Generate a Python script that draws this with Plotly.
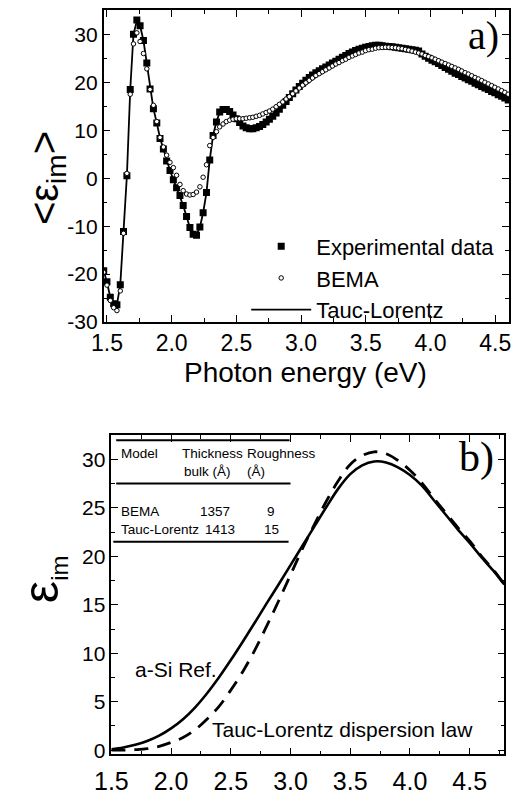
import plotly.graph_objects as go

# ---------------- data : panel a) ----------------
energy_a = [
    1.475, 1.500, 1.526, 1.552, 1.577, 1.603, 1.628, 1.654, 1.680, 1.705,
    1.731, 1.756, 1.782, 1.808, 1.833, 1.859, 1.885, 1.910, 1.936, 1.961,
    1.987, 2.013, 2.038, 2.064, 2.089, 2.115, 2.141, 2.166, 2.192, 2.218,
    2.243, 2.269, 2.294, 2.320, 2.346, 2.371, 2.397, 2.422, 2.448, 2.474,
    2.499, 2.525, 2.551, 2.576, 2.602, 2.627, 2.653, 2.679, 2.704, 2.730,
    2.755, 2.781, 2.807, 2.832, 2.858, 2.884, 2.909, 2.935, 2.960, 2.986,
    3.012, 3.037, 3.063, 3.088, 3.114, 3.140, 3.165, 3.191, 3.217, 3.242,
    3.268, 3.293, 3.319, 3.345, 3.370, 3.396, 3.421, 3.447, 3.473, 3.498,
    3.524, 3.550, 3.575, 3.601, 3.626, 3.652, 3.678, 3.703, 3.729, 3.754,
    3.780, 3.806, 3.831, 3.857, 3.883, 3.908, 3.934, 3.959, 3.985, 4.011,
    4.036, 4.062, 4.087, 4.113, 4.139, 4.164, 4.190, 4.216, 4.241, 4.267,
    4.292, 4.318, 4.344, 4.369, 4.395, 4.420, 4.446, 4.472, 4.497, 4.523,
    4.549, 4.574, 4.600,
]

exp_data = [
    -19.3, -21.6, -24.8, -26.2, -26.4, -22.2, -11.1, 0.5, 18.5, 30.0,
    33.0, 31.8, 28.7, 24.0, 18.6, 14.5, 11.5, 8.3, 6.1, 3.6,
    1.6, -0.3, -2.0, -3.6, -5.7, -8.0, -10.3, -11.7, -11.9, -10.2,
    -7.2, -3.0, 3.8, 8.9, 11.7, 13.8, 14.3, 14.3, 13.9, 13.2,
    12.4, 11.6, 10.9, 10.5, 10.3, 10.3, 10.5, 10.8, 11.2, 11.7,
    12.3, 12.9, 13.6, 14.4, 15.2, 16.0, 16.8, 17.6, 18.4, 19.1,
    19.8, 20.4, 21.0, 21.5, 22.0, 22.4, 22.8, 23.2, 23.6, 24.0,
    24.4, 24.8, 25.2, 25.6, 26.0, 26.3, 26.6, 26.9, 27.1, 27.3,
    27.45, 27.6, 27.7, 27.7, 27.6, 27.5, 27.45, 27.4, 27.3, 27.2,
    27.1, 27.0, 26.9, 26.8, 26.7, 26.5, 25.9, 25.4, 25.0, 24.6,
    24.3, 23.9, 23.5, 23.1, 22.7, 22.3, 21.9, 21.6, 21.2, 20.9,
    20.5, 20.2, 19.8, 19.5, 19.1, 18.8, 18.5, 18.1, 17.8, 17.4,
    17.1, 16.7, 16.3,
]

bema_data = [
    -19.6, -22.3, -25.5, -27.0, -27.6, -23.5, -11.5, 1.0, 17.5, 28.0,
    30.3, 28.5, 26.0, 22.8, 18.5, 15.2, 11.8, 8.5, 6.5, 4.8,
    3.3, 2.2, 0.6, -1.3, -2.6, -3.3, -3.5, -3.4, -2.9, -1.8,
    0.2, 2.8, 6.8, 8.5, 9.7, 10.7, 11.3, 11.8, 12.1, 12.3,
    12.4, 12.4, 12.4, 12.5, 12.6, 12.7, 12.9, 13.1, 13.4, 13.7,
    14.0, 14.4, 14.9, 15.4, 15.9, 16.5, 17.0, 17.6, 18.2, 18.8,
    19.4, 19.9, 20.4, 20.9, 21.4, 21.8, 22.2, 22.6, 23.0, 23.4,
    23.8, 24.1, 24.5, 24.8, 25.2, 25.5, 25.8, 26.1, 26.3, 26.6,
    26.8, 26.9, 27.1, 27.2, 27.25, 27.3, 27.3, 27.25, 27.2, 27.1,
    27.0, 26.85, 26.7, 26.5, 26.3, 26.1, 25.9, 25.6, 25.35, 25.1,
    24.8, 24.5, 24.2, 23.9, 23.6, 23.3, 23.0, 22.7, 22.35, 22.0,
    21.7, 21.35, 21.0, 20.7, 20.35, 20.0, 19.65, 19.3, 18.95, 18.6,
    18.25, 17.9, 17.5,
]

# the Tauc-Lorentz fit coincides with the measured points at this scale
tl_fit = [
    -19.3, -21.7, -24.8, -26.3, -26.4, -22.2, -11.1, 0.5, 18.5, 30.0,
    32.8, 31.8, 28.7, 24.0, 18.6, 14.5, 11.5, 8.4, 6.1, 3.7,
    1.6, -0.3, -2.0, -3.7, -5.7, -8.0, -10.3, -11.6, -11.8, -10.2,
    -7.2, -3.0, 3.8, 8.9, 11.8, 13.7, 14.3, 14.3, 13.9, 13.2,
    12.4, 11.6, 10.9, 10.5, 10.3, 10.3, 10.5, 10.8, 11.2, 11.7,
    12.3, 12.9, 13.6, 14.4, 15.2, 16.0, 16.8, 17.6, 18.4, 19.1,
    19.8, 20.4, 21.0, 21.5, 22.0, 22.4, 22.8, 23.2, 23.6, 24.0,
    24.4, 24.8, 25.2, 25.6, 26.0, 26.3, 26.6, 26.9, 27.1, 27.3,
    27.45, 27.6, 27.7, 27.7, 27.6, 27.5, 27.45, 27.4, 27.3, 27.2,
    27.1, 27.0, 26.9, 26.8, 26.6, 26.3, 25.9, 25.4, 25.0, 24.6,
    24.3, 23.9, 23.5, 23.1, 22.7, 22.3, 21.9, 21.6, 21.2, 20.9,
    20.5, 20.2, 19.8, 19.5, 19.1, 18.8, 18.5, 18.1, 17.8, 17.4,
    17.1, 16.7, 16.3,
]

xticks_a = [1.5, 2.0, 2.5, 3.0, 3.5, 4.0, 4.5]
xticklabels_a = ["1.5", "2.0", "2.5", "3.0", "3.5", "4.0", "4.5"]
yticks_a = [-30, -20, -10, 0, 10, 20, 30]
yticklabels_a = ["-30", "-20", "-10", "0", "10", "20", "30"]

# ---------------- data : panel b) ----------------
energy_b = [1.5, 1.6, 1.7, 1.8, 1.9, 2.0, 2.1, 2.2, 2.3, 2.4, 2.5, 2.6,
            2.7, 2.8, 2.9, 3.0, 3.1, 3.2, 3.3, 3.4, 3.5, 3.6, 3.7, 3.8,
            3.9, 4.0, 4.1, 4.2, 4.3, 4.4, 4.5, 4.6, 4.7, 4.79]
asi_ref = [0.10, 0.28, 0.55, 0.95, 1.50, 2.25, 3.20, 4.40, 5.85, 7.50,
           9.30, 11.2, 13.15, 15.15, 17.1, 19.1, 21.1, 23.1, 25.1, 27.0,
           28.5, 29.4, 29.8, 29.7, 29.2, 28.4, 27.3, 25.8, 24.3, 22.8,
           21.4, 19.9, 18.5, 17.1]
tl_law = [0.0, 0.0, 0.05, 0.15, 0.4, 0.8, 1.3, 2.1, 3.2, 4.5,
          6.2, 8.1, 10.3, 12.8, 15.4, 18.1, 20.8, 23.3, 25.7, 27.8,
          29.5, 30.4, 30.8, 30.6, 29.9, 28.9, 27.6, 26.0, 24.5, 23.0,
          21.6, 20.0, 18.6, 17.1]

xticks_b = [1.5, 2.0, 2.5, 3.0, 3.5, 4.0, 4.5]
xticklabels_b = ["1.5", "2.0", "2.5", "3.0", "3.5", "4.0", "4.5"]
yticks_b = [0, 5, 10, 15, 20, 25, 30]
yticklabels_b = ["0", "5", "10", "15", "20", "25", "30"]

table_header = ["Model", "Thickness", "Roughness"]
table_units = ["bulk (Å)", "(Å)"]
table_models = ["BEMA", "Tauc-Lorentz"]
table_thickness = ["1357", "1413"]
table_roughness = ["9", "15"]

# ---------------- figure ----------------
W, H = 514, 795
SANS = "Liberation Sans, Arial, sans-serif"
SERIF = "Liberation Serif, Times New Roman, serif"


def fx(px):
    return px / W


def fy(py):
    return 1 - py / H


fig = go.Figure()

fig.add_trace(go.Scatter(
    x=energy_a, y=tl_fit, mode="lines", name="Tauc-Lorentz", legendrank=3,
    line=dict(color="black", width=1.8), xaxis="x", yaxis="y"))
fig.add_trace(go.Scatter(
    x=energy_a, y=exp_data, mode="markers", name="Experimental data", legendrank=1,
    marker=dict(symbol="square", size=7, color="black"), xaxis="x", yaxis="y"))
fig.add_trace(go.Scatter(
    x=energy_a, y=bema_data, mode="markers", name="BEMA", legendrank=2,
    marker=dict(symbol="circle", size=4.5, color="white",
                line=dict(color="black", width=1)), xaxis="x", yaxis="y"))

fig.add_trace(go.Scatter(
    x=energy_b, y=asi_ref, mode="lines", showlegend=False, line_shape="spline",
    line=dict(color="black", width=2.6), xaxis="x2", yaxis="y2"))
fig.add_trace(go.Scatter(
    x=energy_b, y=tl_law, mode="lines", showlegend=False, line_shape="spline",
    line=dict(color="black", width=2.8, dash="14px,9px"), xaxis="x2", yaxis="y2"))

axis_common = dict(
    showline=True, linecolor="black", linewidth=1.5, mirror="ticks",
    ticks="inside", tickcolor="black", tickwidth=1.4, ticklen=7,
    showgrid=False, zeroline=False, tickmode="array",
)

fig.update_layout(
    width=W, height=H,
    margin=dict(l=0, r=0, t=0, b=0),
    paper_bgcolor="white", plot_bgcolor="white",
    font=dict(family=SANS, color="black"),
    xaxis=dict(
        axis_common, domain=[fx(90), fx(511)], range=[1.4747, 4.607], anchor="y",
        tickvals=xticks_a, ticktext=xticklabels_a,
        tickfont=dict(size=23, family=SANS, color="black"),
        minor=dict(ticks="inside", ticklen=4, tickwidth=1.1, tickcolor="black",
                   dtick=0.25, tick0=1.5),
    ),
    yaxis=dict(
        axis_common, domain=[fy(327), fy(10)], range=[-30, 35.1], anchor="x",
        tickvals=yticks_a, ticktext=yticklabels_a,
        tickfont=dict(size=21, family=SANS, color="black"),
        minor=dict(ticks="inside", ticklen=4, tickwidth=1.1, tickcolor="black",
                   dtick=5, tick0=0),
    ),
    xaxis2=dict(
        axis_common, domain=[fx(98), fx(506)], range=[1.5, 4.79], anchor="y2",
        tickvals=xticks_b, ticktext=xticklabels_b, ticklabelstandoff=4,
        tickfont=dict(size=25, family=SANS, color="black"),
        minor=dict(ticks="inside", ticklen=4, tickwidth=1.1, tickcolor="black",
                   dtick=0.25, tick0=1.5),
    ),
    yaxis2=dict(
        axis_common, domain=[fy(766), fy(442)], range=[-0.44, 32.5], anchor="x2",
        tickvals=yticks_b, ticktext=yticklabels_b,
        tickfont=dict(size=21, family=SANS, color="black"),
        minor=dict(ticks="inside", ticklen=4, tickwidth=1.1, tickcolor="black",
                   dtick=2.5, tick0=0),
    ),
    legend=dict(
        x=fx(238), y=fy(229), xanchor="left", yanchor="top",
        font=dict(size=22, family=SANS, color="black"),
        bgcolor="rgba(0,0,0,0)", borderwidth=0, traceorder="normal",
        itemsizing="trace", itemwidth=60,
    ),
    showlegend=True,
)

ann = []


def text(t, x, y, size, family=SANS, xanchor="center", angle=0):
    ann.append(dict(text=t, x=fx(x), y=fy(y), xref="paper", yref="paper",
                    xanchor=xanchor, yanchor="middle", showarrow=False,
                    textangle=angle, font=dict(size=size, family=family, color="black")))


# axis titles and panel labels
text("Photon energy (eV)", 300, 378, 28)
text("&lt;ε<sub>im</sub>&gt;", 31, 181, 40, angle=-90)
text("ε<sub><span style='font-size:24px'>im</span></sub>", 27, 588, 50, angle=-90)
text("a)", 484, 36, 40, family=SERIF)
text("b)", 477, 465, 42, family=SERIF)

# curve labels in panel b
text("a-Si Ref.", 165, 680, 21)
text("Tauc-Lorentz dispersion law", 338, 741, 21)

# table in panel b
TS = 13.5
text(table_header[0], 106, 460, TS, xanchor="left")
text(table_header[1], 169, 460, TS, xanchor="left")
text(table_header[2], 237, 460, TS, xanchor="left")
text(table_units[0], 171, 479, TS, xanchor="left")
text(table_units[1], 237, 479, TS, xanchor="left")
for i, yy in enumerate([519, 538]):
    text(table_models[i], 106, yy, TS, xanchor="left")
    text(table_thickness[i], 188 + 5 * i, yy, TS, xanchor="left")
    text(table_roughness[i], 264, yy, TS, xanchor="center")

fig.update_layout(annotations=ann)

shapes = []
for (x0, x1, yy) in [(103, 283, 447), (103, 284, 491), (100, 282, 550)]:
    shapes.append(dict(type="line", xref="paper", yref="paper",
                       x0=fx(x0), x1=fx(x1), y0=fy(yy), y1=fy(yy),
                       line=dict(color="black", width=2)))
fig.update_layout(shapes=shapes)

fig.write_html("out.html")
